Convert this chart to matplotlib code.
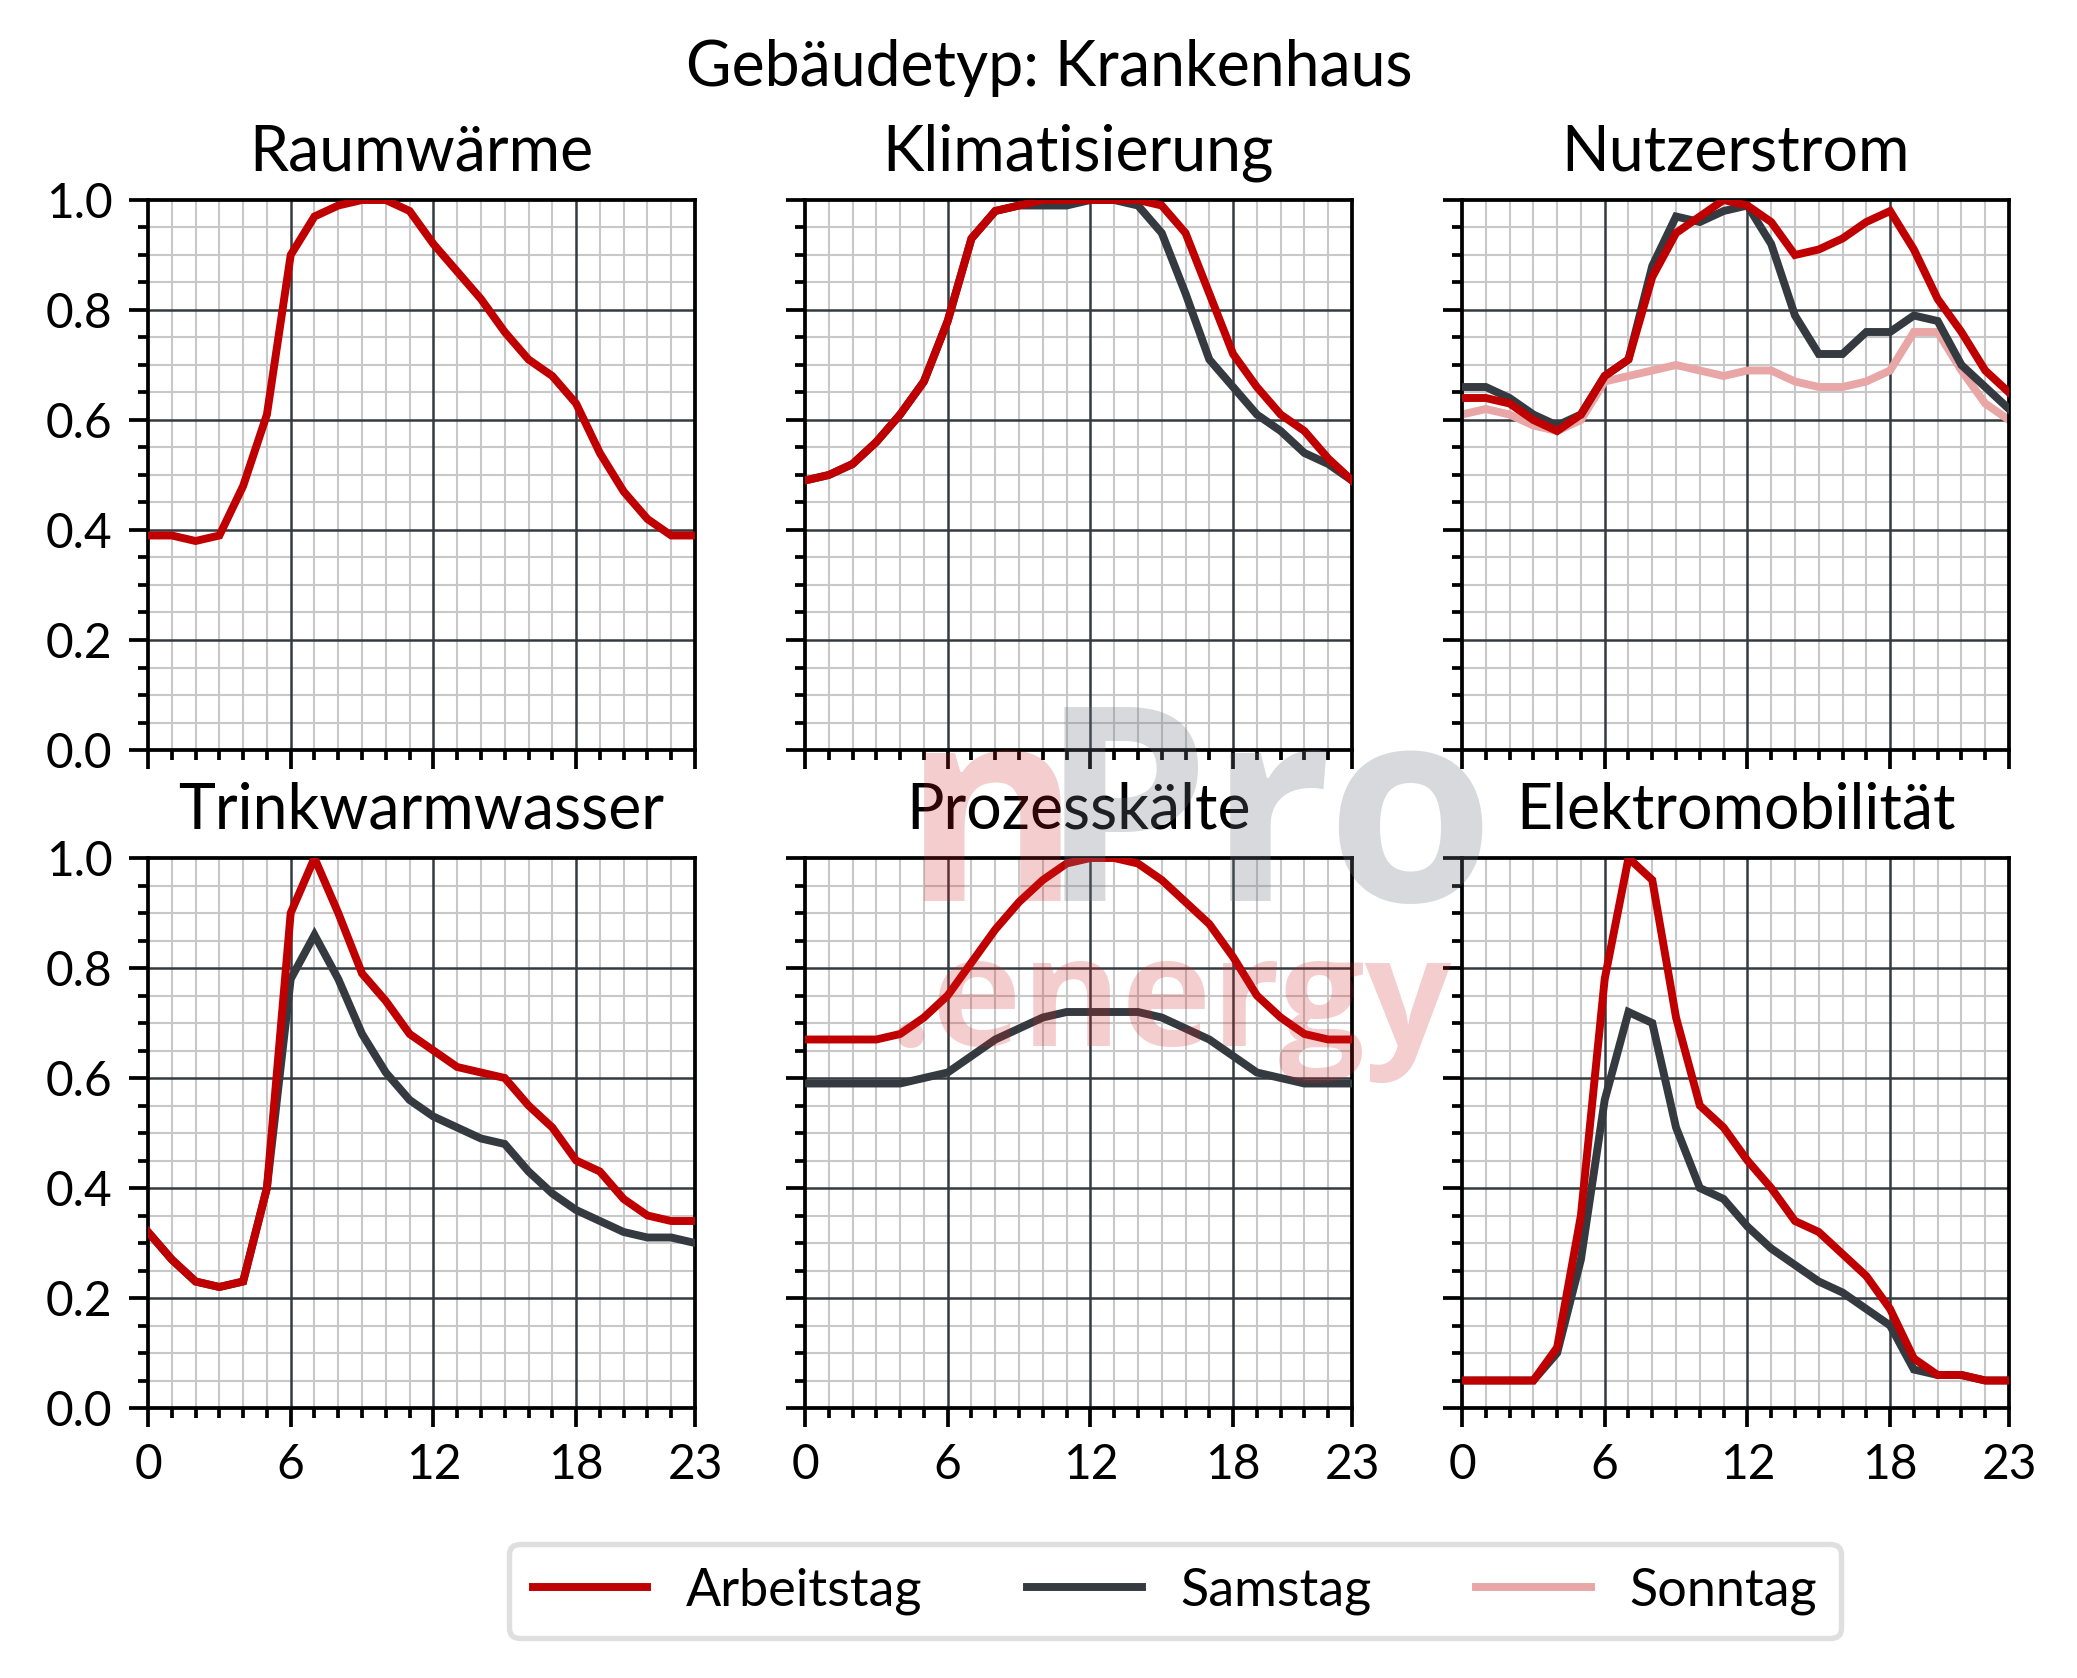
import matplotlib
matplotlib.use("Agg")
import matplotlib.pyplot as plt
from matplotlib.ticker import MultipleLocator, FixedLocator

plt.rcParams['font.family'] = ['Lato', 'DejaVu Sans']

hours = list(range(24))
suptitle = "Gebäudetyp: Krankenhaus"
titles = ["Raumwärme", "Klimatisierung", "Nutzerstrom",
          "Trinkwarmwasser", "Prozesskälte", "Elektromobilität"]
series_names = ["Arbeitstag", "Samstag", "Sonntag"]
xtick_vals = [0, 6, 12, 18, 23]
ytick_vals = [0.0, 0.2, 0.4, 0.6, 0.8, 1.0]

# Raumwärme
raum_arbeitstag = [0.39, 0.39, 0.38, 0.39, 0.48, 0.61, 0.90, 0.97, 0.99, 1.00, 1.00, 0.98,
                   0.92, 0.87, 0.82, 0.76, 0.71, 0.68, 0.63, 0.54, 0.47, 0.42, 0.39, 0.39]
# Klimatisierung
klima_arbeitstag = [0.49, 0.50, 0.52, 0.56, 0.61, 0.67, 0.78, 0.93, 0.98, 0.99, 1.00, 1.00,
                    1.00, 1.00, 1.00, 0.99, 0.94, 0.83, 0.72, 0.66, 0.61, 0.58, 0.53, 0.49]
klima_samstag = [0.49, 0.50, 0.52, 0.56, 0.61, 0.67, 0.78, 0.93, 0.98, 0.99, 0.99, 0.99,
                 1.00, 1.00, 0.99, 0.94, 0.83, 0.71, 0.66, 0.61, 0.58, 0.54, 0.52, 0.49]
# Nutzerstrom
nutzer_arbeitstag = [0.64, 0.64, 0.63, 0.60, 0.58, 0.61, 0.68, 0.71, 0.86, 0.94, 0.97, 1.00,
                     0.99, 0.96, 0.90, 0.91, 0.93, 0.96, 0.98, 0.91, 0.82, 0.76, 0.69, 0.65]
nutzer_samstag = [0.66, 0.66, 0.64, 0.61, 0.59, 0.61, 0.68, 0.71, 0.88, 0.97, 0.96, 0.98,
                  0.99, 0.92, 0.79, 0.72, 0.72, 0.76, 0.76, 0.79, 0.78, 0.70, 0.66, 0.62]
nutzer_sonntag = [0.61, 0.62, 0.61, 0.59, 0.58, 0.60, 0.67, 0.68, 0.69, 0.70, 0.69, 0.68,
                  0.69, 0.69, 0.67, 0.66, 0.66, 0.67, 0.69, 0.76, 0.76, 0.69, 0.63, 0.60]
# Trinkwarmwasser
tww_arbeitstag = [0.32, 0.27, 0.23, 0.22, 0.23, 0.40, 0.90, 1.00, 0.90, 0.79, 0.74, 0.68,
                  0.65, 0.62, 0.61, 0.60, 0.55, 0.51, 0.45, 0.43, 0.38, 0.35, 0.34, 0.34]
tww_samstag = [0.32, 0.27, 0.23, 0.22, 0.23, 0.40, 0.78, 0.86, 0.78, 0.68, 0.61, 0.56,
               0.53, 0.51, 0.49, 0.48, 0.43, 0.39, 0.36, 0.34, 0.32, 0.31, 0.31, 0.30]
# Prozesskälte
proz_arbeitstag = [0.67, 0.67, 0.67, 0.67, 0.68, 0.71, 0.75, 0.81, 0.87, 0.92, 0.96, 0.99,
                   1.00, 1.00, 0.99, 0.96, 0.92, 0.88, 0.82, 0.75, 0.71, 0.68, 0.67, 0.67]
proz_samstag = [0.59, 0.59, 0.59, 0.59, 0.59, 0.60, 0.61, 0.64, 0.67, 0.69, 0.71, 0.72,
                0.72, 0.72, 0.72, 0.71, 0.69, 0.67, 0.64, 0.61, 0.60, 0.59, 0.59, 0.59]
# Elektromobilität
emob_arbeitstag = [0.05, 0.05, 0.05, 0.05, 0.11, 0.35, 0.78, 1.00, 0.96, 0.71, 0.55, 0.51,
                   0.45, 0.40, 0.34, 0.32, 0.28, 0.24, 0.18, 0.09, 0.06, 0.06, 0.05, 0.05]
emob_samstag = [0.05, 0.05, 0.05, 0.05, 0.10, 0.27, 0.56, 0.72, 0.70, 0.51, 0.40, 0.38,
                0.33, 0.29, 0.26, 0.23, 0.21, 0.18, 0.15, 0.07, 0.06, 0.06, 0.05, 0.05]

panels = [
    [raum_arbeitstag, None, None],
    [klima_arbeitstag, klima_samstag, None],
    [nutzer_arbeitstag, nutzer_samstag, nutzer_sonntag],
    [tww_arbeitstag, tww_samstag, None],
    [proz_arbeitstag, proz_samstag, None],
    [emob_arbeitstag, emob_samstag, None],
]

colors = ["#C00000", "#343A40", "#E8A6A6"]
zorders = [4, 3, 2]

W, H = 2077, 1678
fig = plt.figure(figsize=(W / 300, H / 300), dpi=300)

col_left = [148, 805, 1462]
row_top = [200, 858]
aw, ah = 547, 550

handles = {}
for i, (title, data) in enumerate(zip(titles, panels)):
    r, c = divmod(i, 3)
    ax = fig.add_axes([col_left[c] / W, 1 - (row_top[r] + ah) / H, aw / W, ah / H])
    ax.set_xlim(0, 23)
    ax.set_ylim(0, 1)
    ax.xaxis.set_major_locator(FixedLocator(xtick_vals))
    ax.xaxis.set_minor_locator(MultipleLocator(1))
    ax.yaxis.set_major_locator(FixedLocator(ytick_vals))
    ax.yaxis.set_minor_locator(MultipleLocator(0.05))
    ax.set_axisbelow(True)
    ax.grid(which='minor', color='#C8C8C8', lw=0.5)
    for xv in xtick_vals[1:-1]:
        ax.axvline(xv, color='#343A40', lw=0.6, zorder=0.8)
    for yv in ytick_vals[1:-1]:
        ax.axhline(yv, color='#343A40', lw=0.6, zorder=0.8)
    ax.tick_params(which='major', direction='out', length=4.5, width=0.9,
                   labelsize=11.5, pad=4)
    ax.tick_params(which='minor', direction='out', length=2.5, width=0.9)
    ax.set_yticklabels([f"{v:.1f}" for v in ytick_vals])
    ax.set_xticklabels([str(v) for v in xtick_vals])
    if r == 0:
        ax.tick_params(labelbottom=False)
    if c > 0:
        ax.tick_params(labelleft=False)
    for sp in ax.spines.values():
        sp.set_linewidth(0.9)
        sp.set_color('black')
    for k in range(3):
        vals = data[k]
        if vals is None:
            continue
        ln, = ax.plot(hours, vals, color=colors[k], lw=1.9, zorder=zorders[k],
                      solid_joinstyle='miter')
        handles[k] = ln
    ax.set_title(title, fontsize=15, pad=7)

fig.text(0.505, 1 - 86 / H, suptitle, ha='center', va='baseline', fontsize=15)

leg = fig.legend([handles[0], handles[1], handles[2]], series_names,
                 loc='center', bbox_to_anchor=(1175 / W, 1 - 1591 / H),
                 ncol=3, fontsize=12.5, handlelength=2.2, handletextpad=0.75,
                 columnspacing=2.0, frameon=True, fancybox=True,
                 borderpad=0.45)
leg.get_frame().set_edgecolor('#D8D8D8')
leg.get_frame().set_linewidth(1.3)

# watermark
fig.text(903 / W, 1 - 901 / H, "n", color='#D02020', alpha=0.22, fontsize=65,
         fontweight='bold', family='Open Sans', ha='left', va='baseline', zorder=10)
fig.text(1040 / W, 1 - 901 / H, "Pro", color='#6F7580', alpha=0.27, fontsize=65,
         fontweight='bold', family='Open Sans', ha='left', va='baseline', zorder=10)
fig.text(888 / W, 1 - 1046 / H, ".energy", color='#D02020', alpha=0.22, fontsize=36.5,
         fontweight='bold', family='Open Sans', ha='left', va='baseline', zorder=10)

fig.savefig("out.png", dpi=300)
